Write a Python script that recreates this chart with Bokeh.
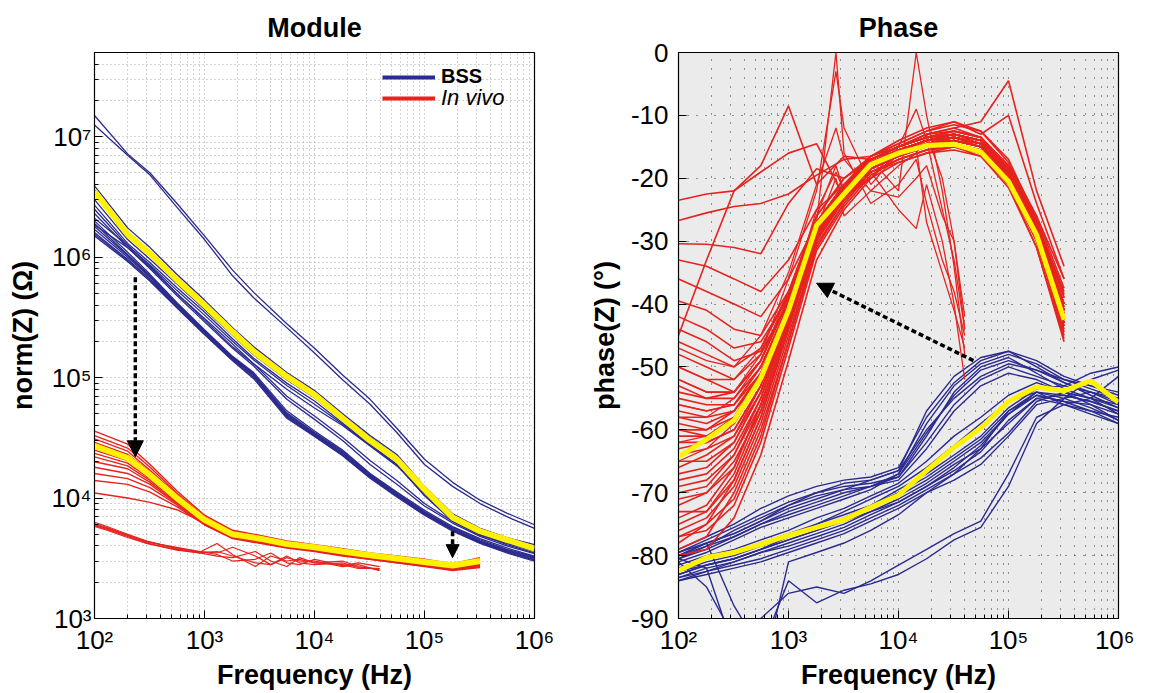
from bokeh.plotting import figure
from bokeh.layouts import row
from bokeh.models import FixedTicker, Arrow, NormalHead, Legend, LegendItem, Range1d
from bokeh.embed import file_html
from bokeh.resources import INLINE

FONT = "Liberation Sans"
NAVY = "#2b2a8e"
RED = "#e5231f"
YELLOW = "#fff200"
NAN = float("nan")

# ---------------- tick labels ----------------
X_TICKS = [1e2, 1e3, 1e4, 1e5, 1e6]
X_TICK_LABELS = ["10²", "10³", "10⁴", "10⁵", "10⁶"]
MOD_Y_TICKS = [1e3, 1e4, 1e5, 1e6, 1e7]
MOD_Y_TICK_LABELS = ["10³", "10⁴", "10⁵", "10⁶", "10⁷"]
PH_Y_TICKS = [-90, -80, -70, -60, -50, -40, -30, -20, -10, 0]
PH_Y_TICK_LABELS = ["-90", "-80", "-70", "-60", "-50", "-40", "-30", "-20", "-10", "0"]

# ---------------- Module : BSS (navy) ----------------
F_MOD_BSS = [100, 200, 320, 560, 1000, 1800, 2800, 5600, 10000, 18000, 32000, 56000,
             100000, 180000, 320000, 560000, 1000000]
MOD_BSS_MEAN = [3.5e6, 1.55e6, 1.07e6, 6.5e5, 4.0e5, 2.4e5, 1.65e5, 1.02e5, 7.2e4, 4.6e4, 3.0e4,
                2.1e4, 1.18e4, 6.9e3, 5.3e3, 4.5e3, 3.8e3]
MOD_BSS = [
    [1.5e7, 7.2e6, 5.0e6, 2.8e6, 1.5e6, 7.8e5, 5.1e5, 2.8e5, 1.75e5, 1.05e5, 6.6e4, 3.8e4, 2.1e4, 1.35e4, 9.6e3, 7.5e3, 6.0e3],
    [1.25e7, 7.0e6, 4.8e6, 2.6e6, 1.4e6, 7.0e5, 4.6e5, 2.6e5, 1.6e5, 9.6e4, 6.0e4, 3.5e4, 1.9e4, 1.25e4, 9.0e3, 7.0e3, 5.6e3],
    [3.9e6, 1.75e6, 1.2e6, 7.2e5, 4.4e5, 2.6e5, 1.8e5, 1.1e5, 7.8e4, 5.0e4, 3.3e4, 2.3e4, 1.25e4, 7.4e3, 5.6e3, 4.7e3, 4.1e3],
    [3.3e6, 1.5e6, 1.03e6, 6.3e5, 3.9e5, 2.35e5, 1.6e5, 9.8e4, 7.0e4, 4.5e4, 2.95e4, 2.05e4, 1.12e4, 6.7e3, 5.1e3, 4.35e3, 3.7e3],
    [3.0e6, 1.4e6, 9.6e5, 6.0e5, 3.7e5, 2.25e5, 1.55e5, 9.6e4, 6.8e4, 4.4e4, 2.9e4, 2.0e4, 1.1e4, 6.6e3, 5.0e3, 4.3e3, 3.65e3],
    [2.7e6, 1.3e6, 9.0e5, 5.6e5, 3.5e5, 2.1e5, 1.45e5, 9.0e4, 6.4e4, 4.2e4, 2.8e4, 1.9e4, 1.05e4, 6.4e3, 4.9e3, 4.2e3, 3.6e3],
    [2.5e6, 1.25e6, 8.6e5, 5.3e5, 3.3e5, 2.0e5, 1.4e5, 8.6e4, 6.0e4, 4.1e4, 2.75e4, 1.9e4, 1.05e4, 6.5e3, 5.0e3, 4.3e3, 3.7e3],
    [2.3e6, 1.2e6, 8.2e5, 5.0e5, 3.1e5, 1.9e5, 1.3e5, 8.0e4, 5.6e4, 4.0e4, 2.7e4, 1.85e4, 1.1e4, 6.8e3, 5.2e3, 4.5e3, 3.9e3],
    [3.6e6, 1.6e6, 1.1e6, 6.7e5, 4.1e5, 2.45e5, 1.7e5, 1.05e5, 7.4e4, 4.8e4, 3.2e4, 2.2e4, 1.2e4, 7.1e3, 5.4e3, 4.6e3, 3.95e3],
    [2.0e6, 1.1e6, 7.2e5, 4.2e5, 2.5e5, 1.5e5, 1.1e5, 5.3e4, 3.6e4, 2.5e4, 1.6e4, 1.12e4, 7.9e3, 5.8e3, 4.6e3, 3.85e3, 3.3e3],
    [1.9e6, 1.05e6, 7.0e5, 4.1e5, 2.45e5, 1.48e5, 1.07e5, 5.1e4, 3.5e4, 2.45e4, 1.58e4, 1.1e4, 7.7e3, 5.7e3, 4.5e3, 3.75e3, 3.25e3],
    [1.8e6, 1.03e6, 6.9e5, 4.05e5, 2.42e5, 1.46e5, 1.06e5, 5.0e4, 3.45e4, 2.4e4, 1.55e4, 1.08e4, 7.6e3, 5.6e3, 4.4e3, 3.7e3, 3.2e3],
    [1.7e6, 1.0e6, 6.8e5, 4.0e5, 2.4e5, 1.45e5, 1.05e5, 4.9e4, 3.4e4, 2.35e4, 1.52e4, 1.06e4, 7.5e3, 5.5e3, 4.35e3, 3.65e3, 3.15e3],
    [1.6e6, 9.6e5, 6.6e5, 3.9e5, 2.35e5, 1.42e5, 1.03e5, 4.8e4, 3.35e4, 2.3e4, 1.5e4, 1.05e4, 7.4e3, 5.45e3, 4.3e3, 3.6e3, 3.1e3],
    [1.55e6, 9.4e5, 6.5e5, 3.85e5, 2.3e5, 1.4e5, 1.0e5, 4.7e4, 3.3e4, 2.28e4, 1.48e4, 1.04e4, 7.3e3, 5.4e3, 4.25e3, 3.55e3, 3.05e3],
    [1.5e6, 9.2e5, 6.3e5, 3.8e5, 2.28e5, 1.38e5, 9.8e4, 4.6e4, 3.25e4, 2.25e4, 1.46e4, 1.02e4, 7.2e3, 5.3e3, 4.2e3, 3.5e3, 3.0e3],
    [1.85e6, 1.2e6, 8.0e5, 4.8e5, 2.9e5, 1.75e5, 1.25e5, 6.6e4, 4.5e4, 3.0e4, 1.9e4, 1.3e4, 8.6e3, 6.2e3, 4.8e3, 4.0e3, 3.45e3],
    [2.1e6, 1.25e6, 8.4e5, 5.0e5, 3.0e5, 1.8e5, 1.3e5, 7.0e4, 4.8e4, 3.2e4, 2.05e4, 1.4e4, 9.0e3, 6.4e3, 5.0e3, 4.1e3, 3.5e3],
]

# ---------------- Module : in vivo (red) ----------------
F_MOD_IV = [100, 200, 320, 560, 1000, 1800, 3200, 5600, 10000, 18000, 32000, 56000, 100000, 180000, 320000]
MOD_IV_MEAN = [2.7e4, 2.15e4, 1.55e4, 1.0e4, 6.6e3, 5.0e3, 4.6e3, 4.15e3, 3.9e3, 3.6e3, 3.35e3, 3.15e3,
               2.95e3, 2.75e3, 3.0e3]
MOD_IV = [
    [3.6e4, 2.8e4, 1.9e4, 1.15e4, 7.2e3, 5.4e3, 4.9e3, 4.4e3, 4.1e3, 3.8e3, 3.5e3, 3.3e3, 3.1e3, 2.85e3, 3.2e3],
    [3.3e4, 2.6e4, 1.8e4, 1.1e4, 7.0e3, 5.3e3, 4.8e3, 4.3e3, 4.0e3, 3.7e3, 3.45e3, 3.25e3, 3.05e3, 2.8e3, 3.1e3],
    [3.1e4, 2.45e4, 1.7e4, 1.07e4, 6.8e3, 5.2e3, 4.7e3, 4.25e3, 4.0e3, 3.7e3, 3.4e3, 3.2e3, 3.0e3, 2.8e3, 3.05e3],
    [2.9e4, 2.3e4, 1.65e4, 1.05e4, 6.7e3, 5.1e3, 4.6e3, 4.2e3, 3.95e3, 3.65e3, 3.4e3, 3.2e3, 3.0e3, 2.75e3, 2.95e3],
    [2.5e4, 2.05e4, 1.5e4, 9.8e3, 6.5e3, 4.9e3, 4.5e3, 4.1e3, 3.85e3, 3.55e3, 3.3e3, 3.1e3, 2.9e3, 2.7e3, 2.9e3],
    [2.35e4, 1.95e4, 1.45e4, 9.6e3, 6.4e3, 4.85e3, 4.4e3, 4.0e3, 3.8e3, 3.5e3, 3.25e3, 3.05e3, 2.85e3, 2.65e3, 2.8e3],
    [2.2e4, 1.85e4, 1.4e4, 9.4e3, 6.3e3, 4.8e3, 4.35e3, 3.95e3, 3.75e3, 3.45e3, 3.2e3, 3.0e3, 2.8e3, 2.6e3, 2.75e3],
    [2.0e4, 1.75e4, 1.35e4, 9.2e3, 6.2e3, 4.75e3, 4.3e3, 3.9e3, 3.7e3, 3.4e3, 3.15e3, 2.95e3, 2.75e3, 2.55e3, 2.7e3],
    [1.8e4, 1.6e4, 1.3e4, 9.0e3, 6.1e3, 4.7e3, 4.25e3, 3.9e3, 3.65e3, 3.35e3, 3.1e3, 2.9e3, 2.7e3, 2.5e3, 2.65e3],
    [1.6e4, 1.45e4, 1.22e4, 8.8e3, 6.0e3, 4.6e3, 4.2e3, 3.85e3, 3.6e3, 3.3e3, 3.1e3, 2.9e3, 2.72e3, 2.55e3, 2.7e3],
    [1.4e4, 1.3e4, 1.12e4, 8.5e3, 6.0e3, 4.65e3, 4.3e3, 3.95e3, 3.7e3, 3.4e3, 3.2e3, 3.0e3, 2.8e3, 2.6e3, 2.8e3],
    [1.1e4, 1.0e4, 9.2e3, 8.0e3, 6.2e3, 4.8e3, 4.4e3, 4.0e3, 3.75e3, 3.5e3, 3.25e3, 3.05e3, 2.85e3, 2.65e3, 2.85e3],
]
F_MOD_IV_LOW = [100, 130, 200, 300, 560, 900, 1300, 1800, 2900, 4000, 5600, 7300, 10000, 18000, 25000, 39000]
MOD_IV_LOW = [
    [6.3e3, 5.8e3, 5.0e3, 4.4e3, 3.8e3, 3.55e3, 4.2e3, 3.4e3, 2.7e3, 3.3e3, 3.0e3, 3.1e3, 2.9e3, 2.8e3, 2.6e3, 2.6e3],
    [6.0e3, 5.6e3, 4.9e3, 4.3e3, 3.9e3, 3.6e3, 3.5e3, 3.9e3, 3.3e3, 2.8e3, 3.2e3, 3.0e3, 3.0e3, 2.7e3, 2.8e3, 2.5e3],
    [5.9e3, 5.5e3, 4.8e3, 4.2e3, 3.7e3, 3.5e3, 3.3e3, 3.2e3, 3.6e3, 3.0e3, 2.7e3, 3.2e3, 2.9e3, 3.0e3, 2.7e3, 2.55e3],
    [6.1e3, 5.7e3, 4.9e3, 4.35e3, 3.85e3, 3.6e3, 3.4e3, 3.0e3, 3.1e3, 3.5e3, 2.9e3, 2.8e3, 3.1e3, 2.75e3, 2.9e3, 2.7e3],
    [5.8e3, 5.4e3, 4.7e3, 4.2e3, 3.75e3, 3.5e3, 3.6e3, 3.3e3, 2.9e3, 2.8e3, 3.3e3, 2.9e3, 2.8e3, 2.9e3, 2.65e3, 2.6e3],
]

# ---------------- Phase : BSS (navy) ----------------
F_PH_BSS = [100, 180, 320, 560, 1000, 1800, 3200, 5600, 10000, 18000, 32000, 56000,
            100000, 180000, 320000, 560000, 1000000]
PH_BSS_MEAN = [-82.4, -80.3, -79.5, -78.2, -76.8, -75.5, -74.3, -72.3, -70.4, -66.5, -62.8, -59.7,
               -55.5, -53.2, -53.8, -52.2, -55.6]
PH_BSS = [
    [-79.0, -77.0, -75.0, -72.5, -70.5, -69.0, -68.0, -67.5, -66.0, -58.0, -52.5, -49.0, -47.5, -50.0, -52.5, -54.0, -56.0],
    [-79.5, -77.5, -75.5, -73.5, -71.5, -70.0, -69.0, -68.5, -67.5, -61.0, -54.0, -50.0, -48.5, -51.0, -53.5, -55.0, -57.5],
    [-80.0, -78.0, -76.5, -74.5, -72.5, -71.0, -69.5, -68.0, -66.5, -60.0, -55.0, -51.5, -49.5, -50.5, -52.0, -53.0, -54.5],
    [-80.5, -79.0, -77.0, -75.0, -73.0, -71.5, -70.0, -69.0, -67.5, -62.0, -56.0, -52.0, -50.0, -51.5, -53.0, -51.0, -50.0],
    [-80.0, -78.5, -76.0, -74.0, -72.0, -70.5, -69.5, -69.0, -68.0, -63.0, -57.0, -53.0, -51.0, -52.0, -54.0, -56.0, -58.5],
    [-81.0, -79.5, -77.5, -75.5, -74.0, -72.5, -71.0, -69.5, -67.0, -59.0, -53.0, -49.5, -48.0, -49.5, -52.0, -53.5, -55.0],
    [-79.5, -78.0, -76.5, -74.5, -72.0, -70.0, -68.5, -68.0, -66.5, -57.0, -51.5, -48.5, -47.5, -49.0, -51.5, -53.0, -54.0],
    [-80.5, -78.5, -77.0, -75.0, -73.5, -72.0, -70.5, -69.0, -67.0, -60.5, -54.5, -50.5, -49.0, -50.5, -52.5, -54.5, -56.5],
    [-83.5, -82.0, -81.0, -79.5, -78.0, -76.5, -75.0, -73.0, -71.0, -68.5, -65.5, -63.0, -59.0, -55.0, -54.5, -55.5, -57.0],
    [-83.0, -81.5, -80.5, -79.0, -77.5, -76.0, -74.5, -72.5, -70.5, -68.0, -65.0, -62.0, -57.5, -54.0, -55.0, -56.5, -58.5],
    [-84.0, -82.5, -81.5, -80.5, -79.0, -77.5, -76.0, -74.0, -72.0, -69.5, -67.0, -64.5, -60.5, -55.5, -54.0, -55.0, -56.5],
    [-82.5, -81.0, -80.0, -78.5, -77.0, -75.5, -74.0, -72.0, -69.5, -67.0, -64.0, -61.0, -56.5, -53.5, -53.0, -54.0, -55.5],
    [-83.0, -81.5, -80.5, -79.0, -77.5, -76.0, -74.5, -73.0, -71.5, -69.0, -66.5, -63.5, -58.5, -55.0, -56.0, -57.5, -59.0],
    [-82.0, -80.5, -79.5, -78.0, -76.5, -75.0, -73.5, -72.0, -70.0, -67.5, -64.5, -61.5, -57.0, -54.5, -55.5, -56.0, -57.5],
    [-81.5, -80.0, -79.0, -77.5, -76.0, -74.0, -72.5, -70.5, -68.5, -65.0, -61.0, -58.0, -54.5, -52.5, -54.0, -55.0, -56.0],
    [-84.0, -83.0, -82.0, -81.0, -79.5, -78.0, -76.5, -74.5, -72.5, -70.0, -68.0, -65.5, -61.0, -56.0, -55.0, -54.0, -55.0],
    [-82.5, -81.5, -80.5, -79.0, -77.0, -75.0, -73.0, -71.0, -69.0, -66.0, -62.5, -59.0, -55.5, -54.0, -56.0, -57.0, -58.0],
    [-83.5, -82.5, -81.0, -79.5, -78.5, -77.0, -75.5, -73.5, -71.5, -69.0, -66.0, -62.5, -57.5, -54.5, -55.5, -57.0, -59.0],
    [-80.0, -78.0, -88.0, -95.0, -84.0, -87.5, -85.5, -84.5, -83.0, -80.5, -77.5, -75.5, -69.0, -59.0, -55.0, -52.0, -50.5],
    [-81.0, -85.0, -93.0, -90.0, -86.0, -85.0, -86.0, -84.0, -81.5, -79.0, -76.5, -74.5, -67.0, -58.0, -56.0, -55.0, -51.5],
    [-80.5, -82.0, -95.0, -100.0, -81.0, -79.5, -78.0, -76.0, -73.5, -70.0, -67.0, -63.0, -57.0, -54.0, -54.5, -55.5, -57.0],
]

# ---------------- Phase : in vivo (red) ----------------
F_PH_IV = [100, 180, 320, 560, 1000, 1800, 3200, 5600, 10000, 18000, 32000, 56000, 100000, 180000, 320000]
PH_IV_MEAN = [-64.3, -61.5, -58.5, -51.8, -41.0, -27.5, -22.5, -17.8, -16.0, -14.8, -14.6, -15.8,
              -20.5, -29.0, -42.5]
PH_IV = [
    [-79, -77, -70, -60, -46, -31, -24, -19, -17, -15.5, -15, -16, -20, -29, -43],
    [-78, -75, -68, -58, -44, -30, -23, -18.5, -16.5, -15, -14.5, -15.5, -19.5, -28, -42],
    [-76, -74, -69, -59, -45, -30.5, -24, -19, -17.5, -16, -15.5, -16.5, -21, -30, -44],
    [-74, -72, -66, -56, -43, -29, -22.5, -18, -16, -14.5, -14, -15, -19, -27.5, -40],
    [-72, -70, -65, -57, -44, -29.5, -23, -18, -16, -14, -13.5, -14.5, -19, -28, -41],
    [-70, -69, -64, -55, -42, -28, -22, -17.5, -15.5, -14, -13, -14, -18.5, -27, -39],
    [-68, -67, -63, -55, -42.5, -28.5, -23, -18.5, -16.5, -15, -14.5, -15.5, -20, -29, -42.5],
    [-66, -64, -61, -53, -41, -27, -21.5, -17, -15, -13.5, -12.5, -13.5, -18, -27, -40],
    [-63, -62, -60, -53, -41, -28, -22.5, -18, -16, -14.5, -13.5, -14.5, -19, -28.5, -41.5],
    [-61, -61, -59, -52, -40, -27, -21, -17, -15, -13, -12, -13.5, -18.5, -27.5, -40.5],
    [-59, -60, -58, -51, -40.5, -27.5, -22, -17.5, -15.5, -14, -13, -14, -19.5, -29, -43],
    [-57, -58, -57, -52, -41.5, -28, -22.5, -18.5, -16.5, -15, -14, -15, -20.5, -30, -44.5],
    [-55, -56, -56, -50, -40, -27, -21.5, -17, -15, -13, -12.5, -13.5, -18, -27, -38],
    [-53, -55, -55, -50, -40.5, -28.5, -23.5, -19, -17, -15.5, -15, -16, -21, -31, -45.5],
    [-50, -52, -54, -49, -39, -27, -21.5, -17, -15, -13.5, -13, -14, -19, -28, -41],
    [-48, -50, -52, -48, -39.5, -28, -22, -17.5, -15.5, -14, -13.5, -14.5, -19.5, -29.5, -43],
    [-46, -48, -50, -47, -38.5, -27, -22, -18, -16, -14, -13, -14, -18, -26, -36],
    [-80, -79, -74, -64, -49, -33, -25, -20, -17.5, -16, -15, -16.5, -21.5, -31, -46],
    [-77, -76, -72, -62, -47, -31.5, -24.5, -19.5, -17, -15.5, -14.5, -15.5, -20, -29, -42],
    [-73, -73, -68, -58, -44, -29, -22.5, -18, -16, -14.5, -14, -15, -19.5, -28.5, -41.5],
    [-75, -73, -67, -57, -43.5, -29.5, -23, -18.5, -16.5, -15, -14.5, -15.5, -20, -29, -43],
    [-71, -70, -66, -56, -43, -28.5, -22.5, -18, -16, -14.5, -13.5, -14.5, -19, -28, -42],
    [-69, -68, -64, -56, -43, -29, -23, -18.5, -16, -14.5, -14, -15, -19.5, -28.5, -41],
    [-65, -65, -62, -54, -42, -28, -22, -17.5, -15.5, -14, -13, -14, -18.5, -27.5, -40],
    [-62, -62, -60, -53, -41.5, -28.5, -22.5, -18, -16, -14.5, -13.5, -14.5, -19.5, -29, -43.5],
    [-58, -59, -57, -51, -40, -27, -21.5, -17.5, -15.5, -14, -13, -14, -18.5, -27.5, -40],
    [-56, -57, -56, -51, -41, -28, -22, -18, -16, -14.5, -13.5, -15, -20, -30, -45],
    [-52, -54, -54, -49, -39.5, -27.5, -22, -17.5, -15.5, -14, -13, -14, -19, -28.5, -42],
    [-77, -75, -71, -61, -46, -30, -23.5, -18.5, -16.5, -15, -14, -15, -19.5, -28, -41],
    [-64, -63, -61, -54, -42, -28, -22, -17, -15, -13.5, -12.5, -13.5, -18, -26.5, -38.5],
    [-67, -66, -62, -54, -41, -27, -21, -16.5, -14.5, -12.5, -11.5, -12.5, -17.5, -26, -37.5],
    [-60, -61, -59, -52, -40.5, -27, -21, -16.5, -14, -12, -11, -12.5, -17, -26.5, -39],
    [-23.5, -22.5, -22, -18, -8.5, -21, -16.5, -17, -15, -13.5, -13, -14.5, -18.5, -28, -41],
    [-26.7, -25.5, -24.5, -24, -22.5, -19.5, -17, -16.5, -15, -13.5, -13, -14, -18.5, -27.5, -40.5],
    [-30.4, -30.5, -31, -32, -24, -18.5, -20, -17, -15.5, -14, -13.5, -14.5, -19, -28.5, -42],
    [-33, -34, -36, -38, -33, -25, -21, -17.5, -16, -14.5, -14, -15, -19.5, -29, -43],
    [-36, -38, -40, -42, -36, -27, -21.5, -18, -16, -14.5, -14, -15, -20, -29, -42.5],
    [-39.5, -41, -44, -45, -38, -28, -22, -18, -16, -14.5, -13.5, -14.5, -19, -28, -41],
    [-42, -44, -47, -46, -39, -28.5, -22.5, -18.5, -16.5, -15, -14, -15, -20, -29.5, -43.5],
    [-44, -46, -49, -47.5, -40, -28.5, -22.5, -18, -16, -14.5, -13.5, -14.5, -19, -28, -41],
    [-45, -33, -22, -19, -16, -14.5, -23, -20, -16, -14, -13.5, -14.5, -19, -28, -41],
    [-60, -60, -57, -51, -40, -27, -21, -17, -15, -13, -12, -11, -4.5, -22, -34],
    [-54, -55, -54, -49, -39, -26, -20, -16.5, -14.5, -12.5, -11, -13, -10, -24, -36],
]
F_PH_IV_NOISY = [100, 180, 320, 560, 1000, 1800, 2700, 3200, 5600, 10000, 14500, 18000, 25000, 32000, 40000]
PH_IV_NOISY = [
    [-56, -57, -56, -50, -40, -28, -20, -26, -22, -18, -16, -13, -20, -30, -44],
    [-62, -61, -58, -52, -41, -27, 0, -16, -24, -21, -17, -24, -33, -38, -45],
    [-52, -54, -54, -48, -36, -22, -3, -12, -21, -16, -15, -27, -35, -41, -47],
    [-58, -58, -55, -49, -38, -26, -22, -20, -17, -22, 0, -10, -22, -34, -48],
    [-50, -52, -52, -47, -38, -26, -18, -22, -20, -15, -9, -14, -25, -33, -44],
    [-65, -63, -59, -52, -40, -25, -19, -22, -19, -25, -28, -21, -30, -40, -52],
    [-47, -49, -50, -45, -35, -21, -12, -17, -22, -23, -20, -18, -26, -30, -42],
]

# ---------------- annotation arrows (data coords: f, value) ----------------
MOD_ARROW_1 = [(235, 6.8e5), (235, 2.2e4)]
MOD_ARROW_2 = [(1.8e5, 5.3e3), (1.8e5, 3.2e3)]
PH_ARROW = [(4.8e4, -49.0), (1800, -36.7)]

MINOR_X = [m * 10 ** e for e in range(2, 6) for m in range(2, 10)]
MINOR_Y_MOD = [m * 10 ** e for e in range(3, 8) for m in range(2, 10) if m * 10 ** e <= 5e7]

FRAME_W, FRAME_H = 440, 566


def style(p, grid_color, grid_dash, minor_y):
    p.outline_line_color = "black"
    p.outline_line_width = 1.2
    p.title.align = "center"
    p.title.vertical_align = "top"
    p.title.text_font = FONT
    p.title.text_font_size = "27px"
    p.title.text_font_style = "bold"
    p.title.text_color = "black"
    p.title.standoff = 16
    for ax in (p.xaxis[0], p.yaxis[0]):
        ax.axis_line_color = "black"
        ax.major_tick_in = 8
        ax.major_tick_out = 0
        ax.minor_tick_in = 4
        ax.minor_tick_out = 0
        ax.major_tick_line_color = "black"
        ax.minor_tick_line_color = "black"
        ax.major_label_text_font = FONT
        ax.major_label_text_font_size = "26px"
        ax.major_label_text_color = "black"
        ax.axis_label_text_font = FONT
        ax.axis_label_text_font_size = "27px"
        ax.axis_label_text_font_style = "bold"
        ax.axis_label_text_color = "black"
    p.xaxis.ticker = FixedTicker(ticks=X_TICKS, minor_ticks=MINOR_X)
    p.xaxis.major_label_overrides = dict(zip(X_TICKS, X_TICK_LABELS))
    p.xaxis.major_label_standoff = 6
    p.xaxis.axis_label = "Frequency (Hz)"
    p.xaxis.axis_label_standoff = 2
    for g in (p.xgrid[0], p.ygrid[0]):
        g.grid_line_color = grid_color
        g.grid_line_dash = grid_dash
        g.grid_line_width = 1
    p.xgrid.minor_grid_line_color = grid_color
    p.xgrid.minor_grid_line_dash = grid_dash
    if minor_y:
        p.ygrid.minor_grid_line_color = grid_color
        p.ygrid.minor_grid_line_dash = grid_dash


# ================= Module =================
p1 = figure(x_axis_type="log", y_axis_type="log", frame_width=FRAME_W, frame_height=FRAME_H,
            min_border_left=94, min_border_right=52, min_border_top=52, min_border_bottom=59,
            x_range=Range1d(1e2, 1e6), y_range=Range1d(1e3, 5e7), title="Module",
            output_backend="svg", toolbar_location=None)
style(p1, "#a8a8a8", "1 3", True)
p1.yaxis.ticker = FixedTicker(ticks=MOD_Y_TICKS, minor_ticks=MINOR_Y_MOD)
p1.yaxis.major_label_overrides = dict(zip(MOD_Y_TICKS, MOD_Y_TICK_LABELS))
p1.yaxis.major_label_standoff = 3
p1.yaxis.axis_label = "norm(Z) (Ω)"
p1.yaxis.axis_label_standoff = 10

p1.multi_line(xs=[F_MOD_BSS] * len(MOD_BSS), ys=MOD_BSS, line_color=NAVY, line_width=1.3)
p1.multi_line(xs=[F_MOD_IV] * len(MOD_IV), ys=MOD_IV, line_color=RED, line_width=1.4)
p1.multi_line(xs=[F_MOD_IV_LOW] * len(MOD_IV_LOW), ys=MOD_IV_LOW, line_color=RED, line_width=1.2)
p1.line(F_MOD_BSS, MOD_BSS_MEAN, line_color=YELLOW, line_width=6)
p1.line(F_MOD_IV, MOD_IV_MEAN, line_color=YELLOW, line_width=6)

for (xs, ys), (xe, ye), size in ((MOD_ARROW_1[0], MOD_ARROW_1[1], 16), (MOD_ARROW_2[0], MOD_ARROW_2[1], 13)):
    p1.add_layout(Arrow(x_start=xs, y_start=ys, x_end=xe, y_end=ye, line_color="black", line_width=3.5,
                        line_dash="5 3",
                        end=NormalHead(size=size, fill_color="black", line_color="black")))

leg_bss = p1.line(x=[NAN], y=[NAN], line_color=NAVY, line_width=4)
leg_iv = p1.line(x=[NAN], y=[NAN], line_color=RED, line_width=4)
for rend, lab, st, fs, loc in ((leg_bss, "BSS", "bold", "20px", (288, 530)),
                               (leg_iv, "In vivo", "italic", "22px", (288, 507))):
    lg = Legend(items=[LegendItem(label=lab, renderers=[rend])], location=loc,
                padding=0, margin=0, spacing=0, border_line_color=None,
                background_fill_alpha=0, glyph_width=53, glyph_height=18, label_standoff=6,
                label_text_font=FONT, label_text_font_size=fs, label_text_font_style=st,
                label_text_color="black", label_height=18, label_text_line_height=1.0)
    p1.add_layout(lg)

# ================= Phase =================
p2 = figure(x_axis_type="log", frame_width=FRAME_W, frame_height=FRAME_H,
            min_border_left=91, min_border_right=16, min_border_top=52, min_border_bottom=59,
            x_range=Range1d(1e2, 1e6), y_range=Range1d(-90, 0), title="Phase",
            output_backend="svg", toolbar_location=None)
style(p2, "#333333", "1 8", False)
p2.background_fill_color = "#ebebeb"
p2.yaxis.ticker = FixedTicker(ticks=PH_Y_TICKS, minor_ticks=[])
p2.yaxis.major_label_overrides = dict(zip(PH_Y_TICKS, PH_Y_TICK_LABELS))
p2.yaxis.major_label_standoff = 10
p2.yaxis.axis_label = "phase(Z) (°)"
p2.yaxis.axis_label_standoff = 8

p2.multi_line(xs=[F_PH_BSS] * len(PH_BSS), ys=PH_BSS, line_color=NAVY, line_width=1.4)
p2.multi_line(xs=[F_PH_IV] * len(PH_IV), ys=PH_IV, line_color=RED, line_width=1.6)
p2.multi_line(xs=[F_PH_IV_NOISY] * len(PH_IV_NOISY), ys=PH_IV_NOISY, line_color=RED, line_width=1.3)
p2.line(F_PH_BSS, PH_BSS_MEAN, line_color=YELLOW, line_width=5)
p2.line(F_PH_IV, PH_IV_MEAN, line_color=YELLOW, line_width=5)
p2.add_layout(Arrow(x_start=PH_ARROW[0][0], y_start=PH_ARROW[0][1], x_end=PH_ARROW[1][0],
                    y_end=PH_ARROW[1][1], line_color="black", line_width=3.5, line_dash="5 3",
                    end=NormalHead(size=16, fill_color="black", line_color="black")))

layout = row(p1, p2)
open("out.html", "w").write(file_html(layout, INLINE))
